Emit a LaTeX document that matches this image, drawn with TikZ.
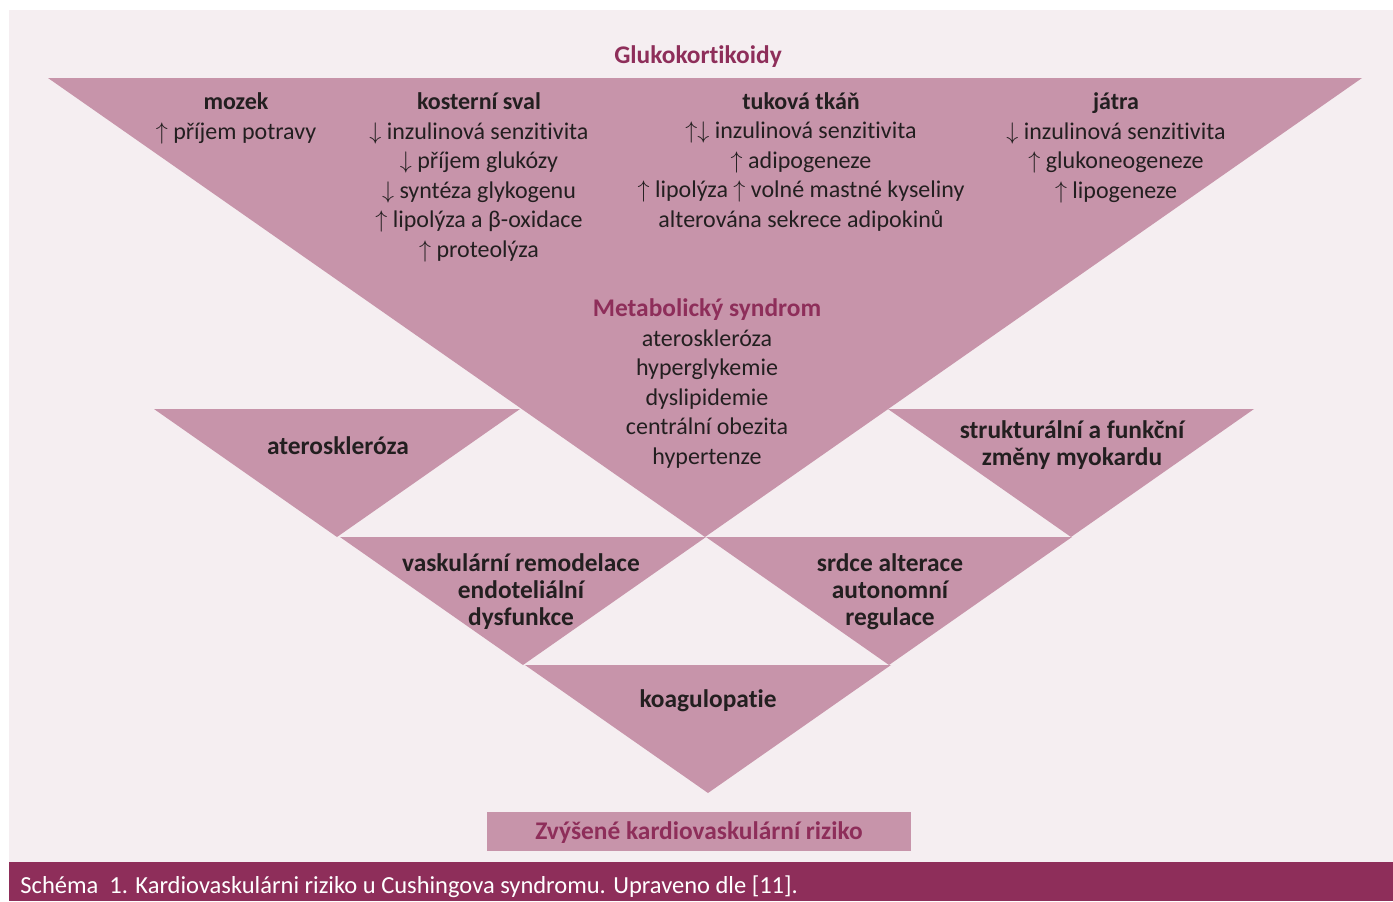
\documentclass[tikz,border=0pt]{standalone}
\usepackage{fontspec}
\setmainfont{Carlito}[Ligatures=NoCommon]
\definecolor{ruzova}{RGB}{199,148,170}
\definecolor{pozadi}{RGB}{245,238,241}
\definecolor{vino}{RGB}{142,46,90}
\definecolor{inkoust}{RGB}{35,31,32}
\newcommand{\nahoru}{$\uparrow$\ }
\newcommand{\dolu}{$\downarrow$\ }
\tikzset{
  popis/.style={align=center,text=inkoust,inner sep=0pt,anchor=base,font=\fontsize{12}{14.75}\selectfont},
  nadpis/.style={align=center,text=inkoust,inner sep=0pt,anchor=base,font=\bfseries\fontsize{12.7}{13.5}\selectfont},
  vinovy/.style={nadpis,text=vino}
}
\begin{document}
\begin{tikzpicture}[x=0.5pt,y=-0.5pt]
  \useasboundingbox (0,0) rectangle (1393,901);
  \fill[white] (0,0) rectangle (1393,901);
  \fill[pozadi] (9,10) rectangle (1393,862);
  \fill[vino] (9,862) rectangle (1393,901);
  %velky trojuhelnik
  \fill[ruzova] (48,78) -- (1362,78) -- (705,537) -- cycle;
  %male trojuhelniky
  \foreach \x/\y in {154/409, 888/409, 340/537, 706/537, 525/665}
    \fill[ruzova] (\x,\y) -- ++(366,0) -- ++(-183,128) -- cycle;
  \node[vinovy] (gluko) at (698,63.5) {Glukokortikoidy};
  %organy (kotva = posledni radek)
  \node[popis] (mozek) at (236,139) {\textbf{mozek}\\ \nahoru příjem potravy};
  \node[popis] (sval) at (479,257) {\textbf{kosterní sval}\\ \dolu inzulinová senzitivita\\ \dolu příjem glukózy\\
    \dolu syntéza glykogenu\\ \nahoru lipolýza a β-oxidace\\ \nahoru proteolýza};
  \node[popis] (tuk) at (801,227) {\textbf{tuková tkáň}\\ $\uparrow\downarrow$\ inzulinová senzitivita\\ \nahoru adipogeneze\\
    \nahoru lipolýza \nahoru volné mastné kyseliny\\ alterována sekrece adipokinů};
  \node[popis] (jatra) at (1116,198) {\textbf{játra}\\ \dolu inzulinová senzitivita\\ \nahoru glukoneogeneze\\ \nahoru lipogeneze};
  %metabolicky syndrom
  \node[popis] (metab) at (707,464) {\textcolor{vino}{\bfseries\fontsize{12.7}{14.75}\selectfont Metabolický syndrom}\\ ateroskleróza\\
    hyperglykemie\\ dyslipidemie\\ centrální obezita\\ hypertenze};
  %nasledky
  \node[nadpis] (ater) at (338,454.5) {ateroskleróza};
  \node[nadpis] (myokard) at (1072,465.5) {strukturální a funkční\\ změny myokardu};
  \node[nadpis] (vask) at (521,625.5) {vaskulární remodelace\\ endoteliální\\ dysfunkce};
  \node[nadpis] (srdce) at (890,625.5) {srdce alterace\\ autonomní\\ regulace};
  \node[nadpis] (koag) at (708,707.5) {koagulopatie};
  \fill[ruzova] (487,812) rectangle (911,851);
  \node[vinovy] (riziko) at (699,839.5) {Zvýšené kardiovaskulární riziko};
  \node[popis,anchor=base west,text=white,font=\fontsize{12.25}{14}\selectfont] (popisek) at (20,893) {Schéma\ \ 1. Kardiovaskulárni riziko u Cushingova syndromu. Upraveno dle [11].};
\end{tikzpicture}
\end{document}
